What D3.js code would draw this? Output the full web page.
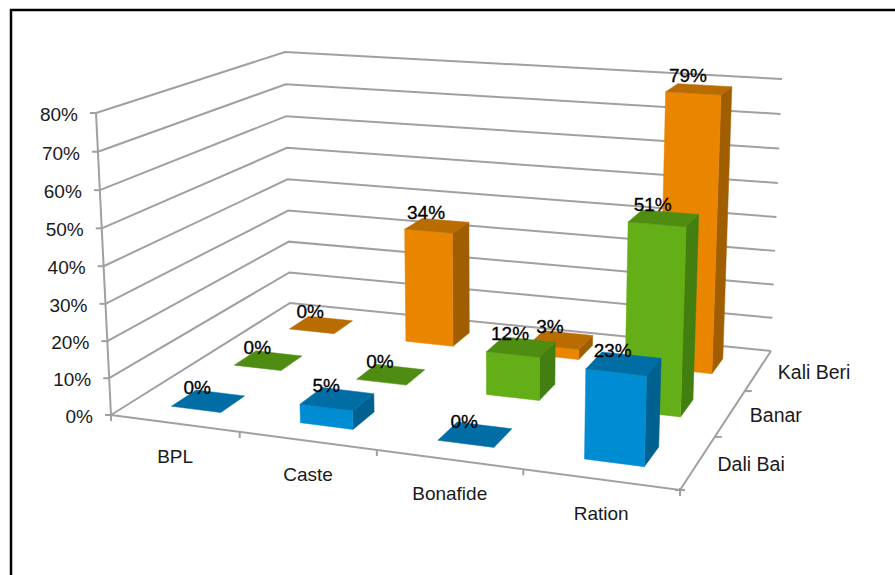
<!DOCTYPE html>
<html>
<head>
<meta charset="utf-8">
<script src="https://cdn.jsdelivr.net/npm/d3@7"></script>
<style>
html,body{margin:0;padding:0;background:#fff}
svg{display:block}
text{font-family:"Liberation Sans",Arial,sans-serif;}
</style>
</head>
<body>
<svg id="chart" width="895" height="575"></svg>
<script>
// Chart content
const categories = ["BPL", "Caste", "Bonafide", "Ration"];
const seriesNames = ["Dali Bai", "Banar", "Kali Beri"];
const daliBai = [0, 5, 0, 23];
const banar = [0, 0, 12, 51];
const kaliBeri = [0, 34, 3, 79];
const seriesValues = [daliBai, banar, kaliBeri];
const valueTicks = [0, 10, 20, 30, 40, 50, 60, 70, 80];

const faceColors = [
  {front: "#008cd3", top: "#006ea5", side: "#00608f"},
  {front: "#64ae18", top: "#4f8c12", side: "#437e10"},
  {front: "#ea8500", top: "#b96c00", side: "#a05e00"}
];
const gridColor = "#a0a0a0";

// Screen corners of the floor and of the ceiling of the 3D box, in the order
// front-left, front-right, back-right, back-left.
const floorQuad = [[111, 415], [680, 490], [771, 351], [290, 303]];
const ceilQuad = [[96, 113], [691, 157], [782, 79], [285, 52]];
// Foreshortening of the vertical axis: steps grow slightly toward the top.
const heightPerspective = 1.03;

// Unit square to quadrilateral homography.
function homography(q) {
  const [[x0, y0], [x1, y1], [x2, y2], [x3, y3]] = q;
  const dx1 = x1 - x2, dx2 = x3 - x2, sx = x0 - x1 + x2 - x3;
  const dy1 = y1 - y2, dy2 = y3 - y2, sy = y0 - y1 + y2 - y3;
  const det = dx1 * dy2 - dx2 * dy1;
  const g = (sx * dy2 - dx2 * sy) / det;
  const h = (dx1 * sy - sx * dy1) / det;
  const a = x1 - x0 + g * x1, b = x3 - x0 + h * x3, c = x0;
  const d = y1 - y0 + g * y1, e = y3 - y0 + h * y3, f = y0;
  return (u, v) => {
    const w = g * u + h * v + 1;
    return [(a * u + b * v + c) / w, (d * u + e * v + f) / w];
  };
}
const floorAt = homography(floorQuad);
const ceilAt = homography(ceilQuad);

// Scales: category along the front edge, series into the depth, value up the walls.
const x = d3.scaleBand().domain(categories).range([0.0015, 1.0015]).paddingInner(0.61).paddingOuter(0.305);
const z = d3.scaleBand().domain(seriesNames).range([0, 1]).paddingInner(0.62).paddingOuter(0.31);
const y = d3.scaleLinear().domain([0, 80]).range([0, 1]);

function project(u, v, value) {
  const a = floorAt(u, v), b = ceilAt(u, v), s = y(value);
  const t = s / (heightPerspective - (heightPerspective - 1) * s);
  return [a[0] + (b[0] - a[0]) * t, a[1] + (b[1] - a[1]) * t];
}

const svg = d3.select("#chart");
const line = d3.line();

// Frame around the chart area
svg.append("path").attr("d", "M11,575V10H895").attr("fill", "none").attr("stroke", "#000").attr("stroke-width", 2.5);

// Walls and floor
const axes = svg.append("g").attr("fill", "none").attr("stroke", gridColor).attr("stroke-width", 2);
valueTicks.forEach(t => {
  axes.append("path").attr("d", line([project(0, 0, t), project(0, 1, t), project(1, 1, t)]));
  const p = project(0, 0, t);
  axes.append("path").attr("d", line([[p[0] - 6, p[1]], p]));
});
axes.append("path").attr("d", line([project(0, 0, 0), project(0, 0, 80)]));
axes.append("path").attr("d", line([project(0, 0, 0), project(1, 0, 0), project(1, 1, 0)]));

// Tick marks at the category and series boundaries
d3.range(0, categories.length + 1).forEach(i => {
  const p = project(i / categories.length, 0, 0);
  axes.append("path").attr("d", line([[p[0], p[1] - (i % 4 ? 0 : 2)], [p[0], p[1] + 6]]));
});
d3.range(1, seriesNames.length + 1).forEach(i => {
  const p = project(1, i / seriesNames.length, 0);
  if (i < seriesNames.length) axes.append("path").attr("d", line([p, [p[0] + 7, p[1]]]));
});
{
  const p = project(1, 0, 0);
  axes.append("path").attr("d", line([[p[0] - 5, p[1]], [p[0] + 5, p[1]]]));
}

// Value axis labels
svg.append("g").selectAll("text").data(valueTicks).join("text")
  .attr("x", d => project(0, 0, d)[0] - 18)
  .attr("y", d => project(0, 0, d)[1] + 8)
  .attr("text-anchor", "end")
  .attr("font-size", 19).attr("fill", "#1a1a1a")
  .text(d => d + "%");

// Category labels below the front edge
svg.append("g").selectAll("text").data(categories).join("text")
  .attr("x", d => project(x(d) + x.bandwidth() / 2, 0, 0)[0])
  .attr("y", d => project(x(d) + x.bandwidth() / 2, 0, 0)[1] + 40)
  .attr("text-anchor", "middle")
  .attr("font-size", 19).attr("fill", "#1a1a1a")
  .text(d => d);

// Series labels beyond the right edge
svg.append("g").selectAll("text").data(seriesNames).join("text")
  .attr("x", d => project(1, z(d) + z.bandwidth() / 2, 0)[0] + 19.5)
  .attr("y", d => project(1, z(d) + z.bandwidth() / 2, 0)[1] + 9)
  .attr("font-size", 19.5).attr("fill", "#1a1a1a")
  .text(d => d);

// Bars: back row first, left to right, so nearer ones cover farther ones.
const barsLayer = svg.append("g").attr("stroke-linejoin", "round");
const poly = pts => line(pts) + "Z";
const labels = [];
d3.range(seriesNames.length - 1, -1, -1).forEach(si => {
  const c = faceColors[si];
  categories.forEach((cat, ci) => {
    const value = seriesValues[si][ci];
    const u0 = x(cat), u1 = u0 + x.bandwidth();
    const v0 = z(seriesNames[si]), v1 = v0 + z.bandwidth();
    const g = barsLayer.append("g");
    const face = (pts, fill) => g.append("path").attr("d", poly(pts)).attr("fill", fill)
      .attr("stroke", fill).attr("stroke-width", 0.5);
    if (value > 0) {
      face([project(u1, v0, 0), project(u1, v1, 0), project(u1, v1, value), project(u1, v0, value)], c.side);
      face([project(u0, v0, 0), project(u1, v0, 0), project(u1, v0, value), project(u0, v0, value)], c.front);
    }
    face([project(u0, v0, value), project(u1, v0, value), project(u1, v1, value), project(u0, v1, value)], c.top);
    const m = project((u0 + u1) / 2, (v0 + v1) / 2, value);
    labels.push({value, x: m[0] - 11, y: m[1] - 7});
  });
});

// Value labels sit above every bar
svg.append("g").selectAll("text").data(labels).join("text")
  .attr("x", d => d.x).attr("y", d => d.y)
  .attr("text-anchor", "middle")
  .attr("font-size", 19).attr("fill", "#000")
  .attr("stroke", "#000").attr("stroke-width", 0.3)
  .text(d => d.value + "%");
</script>
</body>
</html>
